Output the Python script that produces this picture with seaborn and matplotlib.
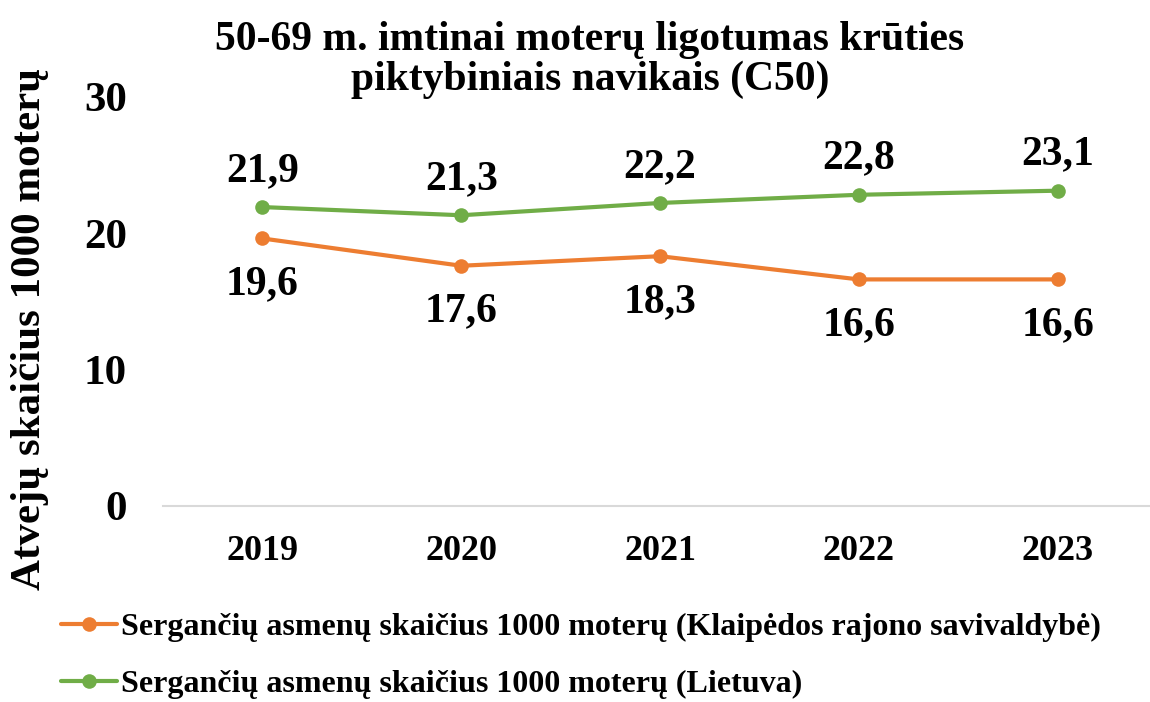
import matplotlib
matplotlib.use("Agg")
import matplotlib.pyplot as plt
import seaborn as sns
import pandas as pd

years = ["2019", "2020", "2021", "2022", "2023"]
klaipeda = [19.6, 17.6, 18.3, 16.6, 16.6]
lietuva = [21.9, 21.3, 22.2, 22.8, 23.1]
series_names = [
    "Sergančių asmenų skaičius 1000 moterų (Klaipėdos rajono savivaldybė)",
    "Sergančių asmenų skaičius 1000 moterų (Lietuva)",
]
title = "50-69 m. imtinai moterų ligotumas krūties\npiktybiniais navikais (C50)"
ylabel = "Atvejų skaičius 1000 moterų"
yticks = [0, 10, 20, 30]

sns.set_style("white")
plt.rcParams['font.family'] = ['Liberation Serif', 'DejaVu Serif']
plt.rcParams['font.weight'] = 'bold'
plt.rcParams['text.color'] = 'black'
plt.rcParams['xtick.color'] = 'black'
plt.rcParams['ytick.color'] = 'black'

df = pd.DataFrame({
    "year": years * 2,
    "value": klaipeda + lietuva,
    "series": [series_names[0]] * len(years) + [series_names[1]] * len(years),
})
palette = {series_names[0]: "#ED7D31", series_names[1]: "#70AD47"}

fig = plt.figure(figsize=(11.5, 7.02), dpi=100)
ax = fig.add_axes([163/1150, 196/702, 994/1150, 409.5/702])
sns.lineplot(data=df, x="year", y="value", hue="series", palette=palette,
             marker="o", markersize=10.5, linewidth=3, markeredgewidth=0,
             ax=ax, sort=False)

ax.set_xlim(-0.5, 4.5)
ax.set_ylim(0, 30)
ax.set_yticks(yticks)
ax.tick_params(axis='y', labelsize=31, pad=26, length=0, labelcolor='black')
ax.tick_params(axis='x', labelsize=26, pad=21, length=0, labelcolor='black')
for lab in ax.get_xticklabels() + ax.get_yticklabels():
    lab.set_fontweight('bold')
for s in ["top", "right", "left"]:
    ax.spines[s].set_visible(False)
ax.spines["bottom"].set_color("#d9d9d9")
ax.spines["bottom"].set_linewidth(1.5)
ax.set_xlabel("")
ax.set_ylabel("")

def fmt(v):
    return f"{v:.1f}".replace(".", ",")

for i, v in enumerate(lietuva):
    ax.annotate(fmt(v), (i, v), xytext=(0, 26), textcoords="offset points",
                ha="center", va="center", fontsize=30, fontweight="bold", color="black")
for i, v in enumerate(klaipeda):
    ax.annotate(fmt(v), (i, v), xytext=(0, -33), textcoords="offset points",
                ha="center", va="center", fontsize=30, fontweight="bold", color="black")

fig.text(590/1150, 1 - 60/702, title, ha="center", va="center",
         fontsize=30, fontweight="bold", linespacing=1.05, color="black")
fig.text(30/1150, 1 - 329/702, ylabel, rotation=90, ha="center", va="center",
         fontsize=31, fontweight="bold", color="black")

handles, labels = ax.get_legend_handles_labels()
leg = ax.legend(handles, labels, loc="center left", bbox_to_anchor=(61/1150, 1 - 656/702),
                bbox_transform=fig.transFigure, frameon=False,
                prop={'size': 23, 'weight': 'bold'}, handlelength=1.75,
                handletextpad=0.12, labelspacing=0.88, borderaxespad=0, borderpad=0)
for t in leg.get_texts():
    t.set_color("black")

fig.savefig("out.png", dpi=100)
